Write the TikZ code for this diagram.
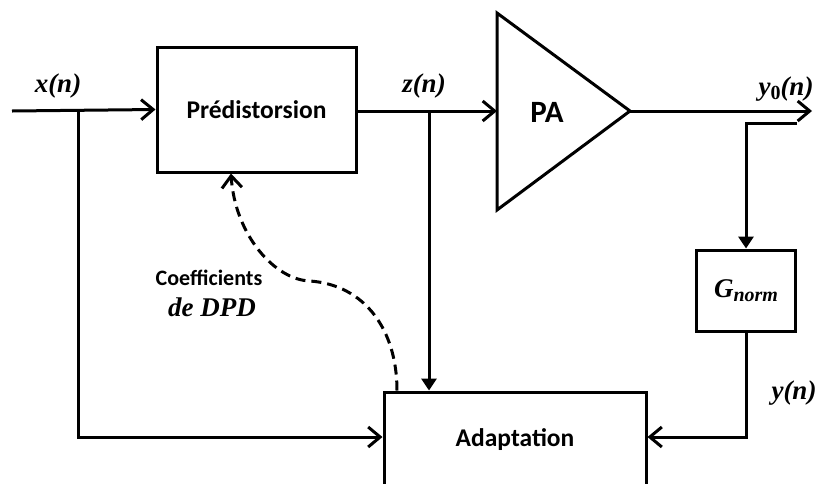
\documentclass[tikz,border=0pt]{standalone}
\usepackage{fontspec}
\setmainfont{Carlito}
\newfontfamily\lblfont{Liberation Serif}
\usetikzlibrary{arrows.meta}
\newcommand{\subsc}[1]{\raisebox{-4pt}{\fontsize{20}{22}\selectfont #1}}
\begin{document}
\begin{tikzpicture}[x=1pt,y=-1pt,line width=3pt,
  blk/.style={draw, rectangle, inner sep=0pt, font=\fontsize{25.5}{28}\selectfont\bfseries},
  arr/.style={-{Straight Barb[length=12pt,width=20pt,line width=3pt]}},
  darr/.style={-{Triangle[length=12pt,width=15pt]}},
  lbl/.style={font=\fontsize{27}{30}\selectfont\lblfont\bfseries\itshape, inner sep=0pt},
  txt/.style={font=\fontsize{22}{25}\selectfont\bfseries, inner sep=0pt, align=center}]
\clip (0,0) rectangle (822,483);
% blocks
\node[blk, minimum width=199pt, minimum height=125pt] (pre) at (256.5,109.5) {Prédistorsion};
\node[blk, minimum width=262pt, minimum height=96pt] (adapt) at (515,440) {Adaptation};
\node[blk, minimum width=99pt, minimum height=81pt] (gn) at (746,290.5) {\lblfont\bfseries\itshape\fontsize{27}{30}\selectfont G\subsc{norm}};
% PA triangle
\coordinate (paT) at (497,13);
\coordinate (paB) at (497,210);
\coordinate (paOut) at (630,111);
\coordinate (paIn) at (497,111);
\draw[line join=miter] (paT) -- (paOut) -- (paB) -- cycle;
\node[font=\fontsize{31}{34}\selectfont\bfseries] (pa) at (547,112) {PA};
% coordinates
\coordinate (inStart) at (12,111);
\coordinate (bx) at (78,111);
\coordinate (yl) at (0,437);
\coordinate (bz) at (429,111);
\coordinate (outEnd) at (812,111);
\coordinate (tap) at (797,123);
\coordinate (tapC) at (746,123);
\coordinate (gb) at (746,437);
\coordinate (dA) at (397,392);
\coordinate (dP) at (231,0);
\coordinate (dM) at (310,281);
% connectors
\draw[arr] (inStart) -- (pre.west);
\draw[arr] (bx) -- (bx |- yl) -- (adapt.west |- yl);
\draw[arr] (pre.east |- paIn) -- (paIn);
\draw[darr] (bz) -- (bz |- adapt.north);
\draw[arr] (paOut) -- (outEnd);
\draw[darr] (tap) -- (tapC) -- (gn.north);
\draw[arr] (gn.south) -- (gb) -- (adapt.east |- gb);
\draw[arr, dash pattern=on 10pt off 6pt] (dA |- adapt.north) .. controls (397,330) and (365,285) .. (dM)
   .. controls (275,280) and (235,235) .. (pre.south -| dP);
% labels
\node[lbl] (lx) at (58,86) {x(n)};
\node[lbl] (lz) at (424,86) {z(n)};
\node[lbl] (ly0) at (786,89) {y\subsc{\upshape 0}(n)};
\node[lbl] (ly) at (794,393) {y(n)};
\node[txt] (coef) at (209,278) {Coefficients};
\node[lbl] (dpd) at (212,307) {de DPD};
\end{tikzpicture}
\end{document}
